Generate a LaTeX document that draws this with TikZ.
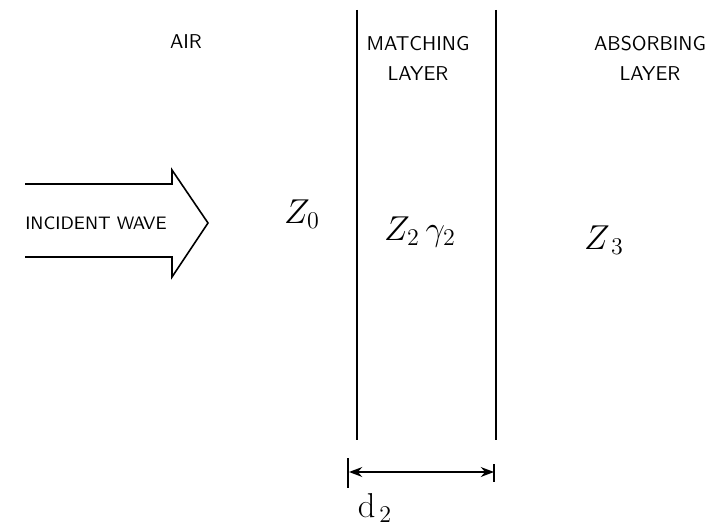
\documentclass[tikz,border=0pt]{standalone}
\usetikzlibrary{arrows.meta}
\begin{document}
\begin{tikzpicture}[x=0.5pt,y=-0.5pt,
  lbl/.style={font=\sffamily},
  sym/.style={font=\LARGE}]
  \useasboundingbox (0,0) rectangle (718,529);
  % layer boundaries
  \draw[thick] (357,10)--(357,440);
  \draw[thick] (496,10)--(496,440);
  % incident wave arrow
  \draw[thick] (25,184)--(172,184)--(172,170)--(208,223)--(172,277)--(172,257)--(25,257);
  \node[lbl,font=\sffamily\small] (wave) at (96,223) {INCIDENT WAVE};
  % region labels
  \node[lbl] (air) at (186,42) {AIR};
  \node[lbl,align=center] (match) at (418,58) {MATCHING\\[3pt]LAYER};
  \node[lbl,align=center] (absorb) at (650,58) {ABSORBING\\[3pt]LAYER};
  \node[sym] (z0) at (302,214) {$Z_0$};
  \node[sym] (z2) at (420,232) {$Z_{2}\,\gamma_{2}$};
  \node[sym] (z3) at (604,240) {$Z_{\,3}$};
  % thickness d2
  \coordinate (dl) at (349,472);
  \coordinate (dr) at (494,472);
  \draw[thick] (348,458)--(348,488);
  \draw[thick] (494,464)--(494,482);
  \draw[thick,{Stealth}-{Stealth}] (dl)--(dr);
  \node[sym] (d2) at (375,508) {$\mathrm{d}_{\,2}$};
\end{tikzpicture}
\end{document}
